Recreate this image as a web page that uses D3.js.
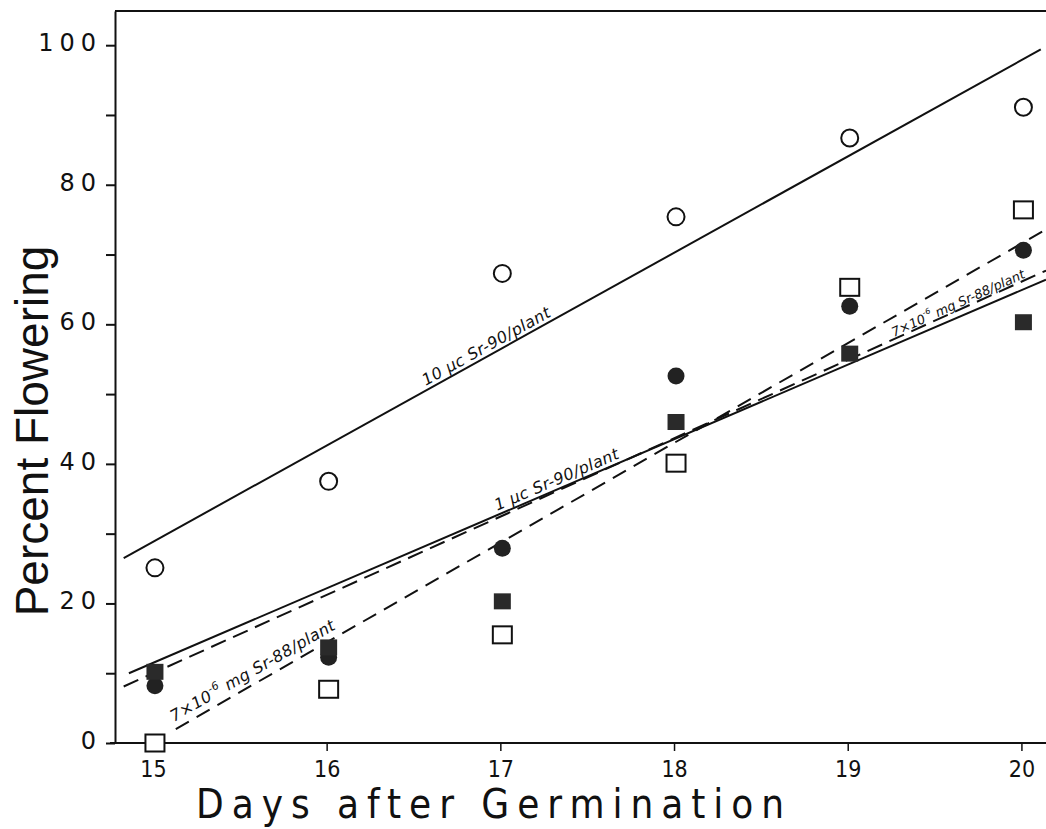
<!DOCTYPE html>
<html><head><meta charset="utf-8">
<script src="https://cdn.jsdelivr.net/npm/d3@7"></script>
<style>body{margin:0;background:#fff} svg{display:block}</style>
</head><body>
<svg id="chart" width="1046" height="829"></svg>
<script>
// ---- data ----
const days = [15, 16, 17, 18, 19, 20];
const openCircle   = [25.1, 37.5, 67.3, 75.4, 86.7, 91.1];   // 10 µc Sr-90
const filledCircle = [8.2, 12.3, 27.9, 52.6, 62.6, 70.6];    // 1 µc Sr-90
const openSquare   = [0, 7.7, 15.5, 40.1, 65.3, 76.4];       // Sr-88
const filledSquare = [10.2, 13.7, 20.3, 46.0, 55.8, 60.3];   // Sr-88
const yTicks  = [0, 10, 20, 30, 40, 50, 60, 70, 80, 90, 100];
const yLabels = [0, 20, 40, 60, 80, 100];
const xTicks  = [15, 16, 17, 18, 19, 20];
// fitted lines: [day, percent] end points
const line10uc  = [[14.82, 26.5], [20.10, 99.4]];
const line1uc   = [[14.85, 10.0], [20.13, 66.4]];
const lineSr88a = [[15.12, 2.0],  [20.13, 73.6]];
const lineSr88b = [[14.82, 8.1],  [20.13, 67.7]];

const svg = d3.select("#chart");
const x = d3.scaleLinear().domain([14.77, 20.13]).range([115, 1046]);
const y = d3.scaleLinear().domain([0, 104.9]).range([743, 11]);

// top frame
svg.append("line")
  .attr("x1", x(14.77)).attr("x2", x(20.13))
  .attr("y1", y(104.9)).attr("y2", y(104.9))
  .attr("stroke", "#111").attr("stroke-width", 2);

// axes
const yAxis = d3.axisLeft(y).tickValues(yTicks).tickSize(9).tickSizeOuter(0)
  .tickFormat(d => yLabels.includes(d) ? d : "");
const gy = svg.append("g").attr("transform", `translate(${x(14.77)},0)`).call(yAxis);
gy.select(".domain").attr("stroke", "#111").attr("stroke-width", 2);
gy.selectAll(".tick line").attr("stroke", "#111").attr("stroke-width", 2);
gy.selectAll(".tick text")
  .attr("x", -13).attr("dy", "0.22em")
  .style("font-family", "'DejaVu Sans', sans-serif")
  .style("font-size", "24px").style("letter-spacing", "6px")
  .attr("fill", "#111");

const xAxis = d3.axisBottom(x).tickValues(xTicks).tickSize(8).tickSizeOuter(0)
  .tickFormat(d3.format("d"));
const gx = svg.append("g").attr("transform", `translate(-2,${y(0)})`).call(xAxis);
gx.select(".domain").attr("stroke", "#111").attr("stroke-width", 2)
  .attr("d", `M${x(14.77) - 3},0H${x(20.13) + 2}`);
gx.selectAll(".tick line").attr("stroke", "#111").attr("stroke-width", 1.5);
gx.selectAll(".tick text")
  .attr("y", 34).attr("dy", 0)
  .style("font-family", "'DejaVu Sans Condensed', 'DejaVu Sans', sans-serif")
  .style("font-stretch", "condensed")
  .style("font-size", "23px").attr("fill", "#111");

// axis titles
svg.append("text")
  .attr("transform", "translate(48,431) rotate(-90)")
  .attr("text-anchor", "middle")
  .style("font-family", "'Liberation Sans', Arial, sans-serif")
  .style("font-size", "46px").attr("fill", "#111")
  .text("Percent Flowering");

svg.append("text")
  .attr("x", 196).attr("y", 818)
  .attr("textLength", 588).attr("lengthAdjust", "spacing")
  .style("font-family", "'DejaVu Sans Condensed', 'DejaVu Sans', sans-serif")
  .style("font-stretch", "condensed")
  .style("font-size", "40px").attr("fill", "#111")
  .text("Days after Germination");

// fitted lines
const lineGen = d3.line().x(d => x(d[0])).y(d => y(d[1]));
const lines = [
  {data: line10uc,  dash: null},
  {data: line1uc,   dash: null},
  {data: lineSr88a, dash: "15,9"},
  {data: lineSr88b, dash: "16,8"}
];
lines.forEach(l => {
  svg.append("path").attr("d", lineGen(l.data))
    .attr("fill", "none").attr("stroke", "#111").attr("stroke-width", 2)
    .attr("stroke-dasharray", l.dash);
});

// line labels
function valueAt(line, d) {
  const [a, b] = line;
  return a[1] + (b[1] - a[1]) * (d - a[0]) / (b[0] - a[0]);
}
const lineLabels = [
  {line: line10uc,  day: 16.57, off: 4, size: 16, ls: 0.4, parts: [["10 µc  Sr-90/plant", 0]]},
  {line: line1uc,   day: 16.98, off: 4, size: 16, ls: 0.4, parts: [["1 µc   Sr-90/plant", 0]]},
  {line: lineSr88a, day: 15.13, off: 7, size: 16, ls: 0.4, parts: [["7×10", 0], ["-6", 1], [" mg Sr-88/plant", 0]]},
  {line: lineSr88b, day: 19.26, off: 2, size: 13, ls: 0, parts: [["7×10", 0], ["-6", 1], [" mg Sr-88/plant", 0]]}
];
lineLabels.forEach(lb => {
  const [a, b] = lb.line;
  const ang = Math.atan2(y(b[1]) - y(a[1]), x(b[0]) - x(a[0])) * 180 / Math.PI;
  const px = x(lb.day), py = y(valueAt(lb.line, lb.day));
  const t = svg.append("text")
    .attr("transform", `translate(${px},${py}) rotate(${ang})`)
    .attr("y", -lb.off)
    .style("font-family", "'DejaVu Sans', sans-serif")
    .style("font-style", "italic")
    .style("letter-spacing", lb.ls + "px")
    .style("font-size", lb.size + "px").attr("fill", "#111");
  lb.parts.forEach((p, i) => {
    t.append("tspan")
      .attr("dy", p[1] ? -7 : (i > 0 ? 7 : 0))
      .style("font-size", p[1] ? (lb.size - 5) + "px" : null)
      .text(p[0]);
  });
});

// markers
const pts = (vals) => days.map((d, i) => ({d, v: vals[i]}));
svg.selectAll(".oc").data(pts(openCircle)).enter().append("circle")
  .attr("cx", p => x(p.d)).attr("cy", p => y(p.v)).attr("r", 8.5)
  .attr("fill", "#fff").attr("stroke", "#111").attr("stroke-width", 2);
svg.selectAll(".fc").data(pts(filledCircle)).enter().append("circle")
  .attr("cx", p => x(p.d)).attr("cy", p => y(p.v)).attr("r", 8.5)
  .attr("fill", "#222");
svg.selectAll(".os").data(pts(openSquare)).enter().append("rect")
  .attr("x", p => x(p.d) - 9.5).attr("y", p => y(p.v) - 8.5)
  .attr("width", 19).attr("height", 17)
  .attr("fill", "#fff").attr("stroke", "#111").attr("stroke-width", 2);
svg.selectAll(".fs").data(pts(filledSquare)).enter().append("rect")
  .attr("x", p => x(p.d) - 8.5).attr("y", p => y(p.v) - 8)
  .attr("width", 17).attr("height", 16)
  .attr("fill", "#2a2a2a");
</script>
</body></html>
